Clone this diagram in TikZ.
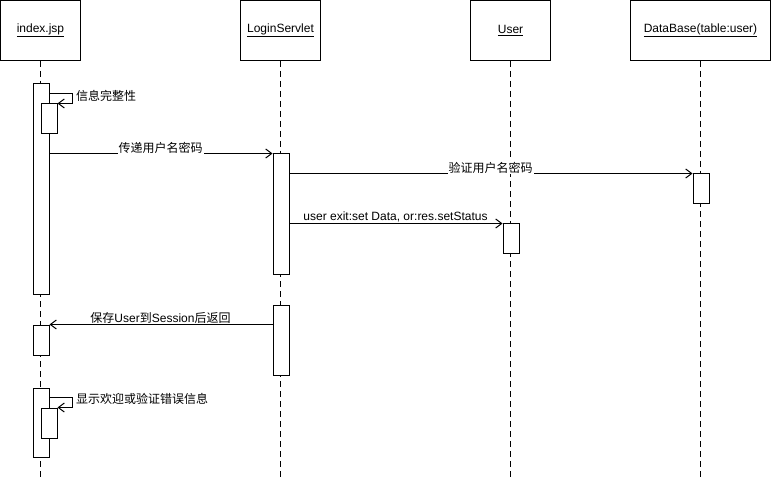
\documentclass[tikz,border=0pt]{standalone}
\usepackage{fontspec}
\setmainfont{Liberation Sans}
\newfontfamily\cjk{Noto Sans CJK SC}
\usetikzlibrary{arrows.meta}

\tikzset{
  head/.style={draw, minimum width=80bp, minimum height=60bp, inner sep=0pt},
  act/.style={draw, fill=white, minimum width=16bp, inner sep=0pt, anchor=north west},
  life/.style={dash pattern=on 6bp off 4bp},
  msg/.style={-{Straight Barb[length=6bp,width=9bp]}},
  lbl/.style={fill=white, inner sep=1bp},
}

\begin{document}
\begin{tikzpicture}[x=1bp, y=-1bp, line width=1bp, font=\fontsize{12bp}{14bp}\selectfont]
\useasboundingbox (-0.5,-0.5) rectangle (770.5,476.5);
\coordinate (bot) at (0,477);

% Objects
\node[head] (idx) at (40,30) {\underline{index.jsp}};
\node[head] (srv) at (280,30) {\underline{LoginServlet}};
\node[head] (usr) at (510,30) {\underline{User}};
\node[head, minimum width=140bp] (db) at (700,30) {\underline{DataBase(table:user)}};

% Lifelines
\draw[life] (idx.south) -- (idx.south |- bot);
\draw[life] (srv.south) -- (srv.south |- bot);
\draw[life] (usr.south) -- (usr.south |- bot);
\draw[life] (db.south) -- (db.south |- bot);

% Activations
\node[act, minimum height=210bp] (a1) at (32,83) {};
\node[act, minimum height=30bp] (n1) at (40,103) {};
\node[act, minimum height=120bp] (l1) at (272,153) {};
\node[act, minimum height=30bp] (d1) at (692,173) {};
\node[act, minimum height=30bp] (u1) at (502,223) {};
\node[act, minimum height=70bp] (l2) at (272,304) {};
\node[act, minimum height=30bp] (a2) at (32,324) {};
\node[act, minimum height=69bp] (a3) at (32,387) {};
\node[act, minimum height=30bp] (n3) at (40,407) {};

% Messages
\coordinate (s1) at (72,93);
\draw[msg] (a1.east |- s1) -- (s1) |- (n1.north east);
\node[lbl, anchor=west] (t1) at (74,95) {\cjk 信息完整性};

\draw[msg] (a1.east |- l1.north) -- (l1.north west);
\node[lbl] (t2) at (160,147) {\cjk 传递用户名密码};

\draw[msg] (l1.east |- d1.north) -- (d1.north west);
\node[lbl] (t3) at (490,167) {\cjk 验证用户名密码};

\draw[msg] (l1.east |- u1.north) -- (u1.north west);
\node[lbl] (t4) at (395,216) {user exit:set Data, or:res.setStatus};

\draw[msg] (l2.west |- a2.north) -- (a2.north east);
\node[lbl] (t5) at (160,317) {{\cjk 保存}User{\cjk 到}Session{\cjk 后返回}};

\coordinate (s3) at (72,397);
\draw[msg] (a3.east |- s3) -- (s3) |- (n3.north east);
\node[lbl, anchor=west] (t6) at (74,398) {\cjk 显示欢迎或验证错误信息};
\end{tikzpicture}
\end{document}
